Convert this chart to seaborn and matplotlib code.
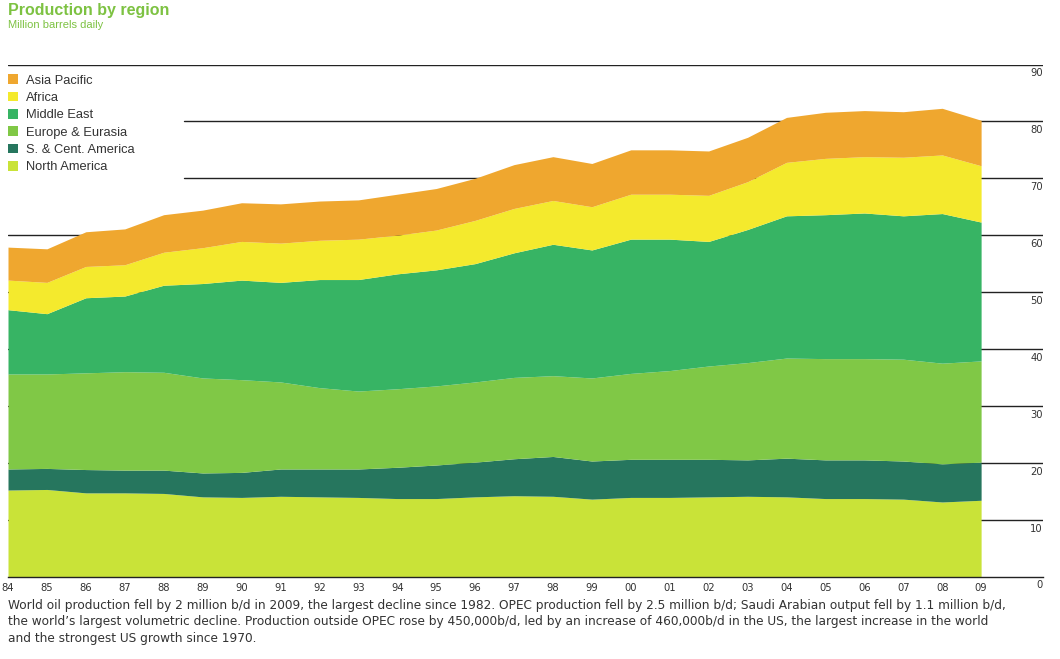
import numpy as np
import pandas as pd
import matplotlib
matplotlib.use("Agg")
import matplotlib.pyplot as plt
import matplotlib.transforms as mtransforms
import seaborn as sns

# Datos (millones de barriles diarios)
years = list(range(1984, 2010))
year_labels = [str(y)[2:] for y in years]

north_america = [15.2, 15.3, 14.7, 14.7, 14.6, 14.0, 13.9, 14.1, 14.0, 13.9,
                 13.7, 13.7, 14.0, 14.2, 14.1, 13.6, 13.9, 13.9, 14.0, 14.1,
                 14.0, 13.7, 13.7, 13.6, 13.1, 13.4]
s_cent_america = [3.7, 3.7, 4.1, 4.0, 4.1, 4.2, 4.4, 4.8, 4.9, 5.0,
                  5.5, 5.9, 6.1, 6.5, 7.0, 6.7, 6.7, 6.7, 6.6, 6.4,
                  6.8, 6.8, 6.8, 6.7, 6.7, 6.7]
europe_eurasia = [16.7, 16.6, 17.0, 17.3, 17.2, 16.7, 16.3, 15.3, 14.3, 13.7,
                  13.8, 13.9, 14.1, 14.3, 14.2, 14.6, 15.1, 15.6, 16.4, 17.1,
                  17.6, 17.8, 17.8, 17.9, 17.7, 17.8]
middle_east = [11.3, 10.6, 13.2, 13.3, 15.3, 16.6, 17.5, 17.5, 19.0, 19.6,
               20.2, 20.4, 20.8, 21.9, 23.1, 22.5, 23.6, 23.1, 21.9, 23.4,
               25.0, 25.3, 25.6, 25.2, 26.3, 24.4]
africa = [5.2, 5.5, 5.5, 5.5, 5.8, 6.3, 6.8, 6.9, 6.9, 7.1,
          6.8, 7.0, 7.6, 7.8, 7.7, 7.6, 7.9, 7.9, 8.1, 8.4,
          9.4, 9.9, 9.9, 10.3, 10.3, 9.9]
asia_pacific = [5.8, 5.9, 6.1, 6.3, 6.6, 6.6, 6.8, 6.9, 6.9, 6.9,
                7.2, 7.3, 7.4, 7.7, 7.7, 7.6, 7.8, 7.8, 7.8, 7.8,
                7.9, 8.1, 8.1, 8.0, 8.2, 8.0]

regions = ["North America", "S. & Cent. America", "Europe & Eurasia",
           "Middle East", "Africa", "Asia Pacific"]
y_ticks = [10, 20, 30, 40, 50, 60, 70, 80, 90]

df = pd.DataFrame({
    "year": years,
    "North America": north_america,
    "S. & Cent. America": s_cent_america,
    "Europe & Eurasia": europe_eurasia,
    "Middle East": middle_east,
    "Africa": africa,
    "Asia Pacific": asia_pacific,
})

# Estilo
sns.set_style("white")
plt.rcParams["font.family"] = ["Liberation Sans", "DejaVu Sans"]
palette = sns.color_palette(["#c9e338", "#26765e", "#80c846",
                             "#37b464", "#f4ea2d", "#efa72f"])
green = "#7dc242"
text_col = "#333333"
narrow = dict(family=["DejaVu Sans"], fontstretch="condensed")

fig = plt.figure(figsize=(10.6, 6.59), dpi=100)
ax = fig.add_axes([8 / 1060, 1 - 576.5 / 659, 1035 / 1060, 512 / 659])

# Lineas de referencia (detras de las areas)
for v in y_ticks:
    xmin = 0.17 if v in (70, 80) else 0.0
    ax.axhline(v, xmin=xmin, xmax=1.0, color="#222222", lw=1.0, zorder=0)

stacks = ax.stackplot(df["year"], [df[r] for r in regions],
                      colors=palette, labels=regions, zorder=2, lw=0)

ax.set_xlim(1984, 2010.59)
ax.set_ylim(0, 90)
sns.despine(ax=ax, left=True, right=True, top=True)
ax.spines["bottom"].set_color("#222222")
ax.spines["bottom"].set_linewidth(1.0)

ax.set_xticks(years)
ax.set_xticklabels(year_labels, fontsize=8, color=text_col, **narrow)
ax.tick_params(axis="x", length=0, pad=5)
ax.set_yticks([])

# Etiquetas del eje derecho, bajo cada linea
trans = mtransforms.blended_transform_factory(ax.transAxes, ax.transData)
trans = mtransforms.offset_copy(trans, fig=fig, x=0, y=-4, units="dots")
for v in [0] + y_ticks:
    ax.text(1.0, v, str(v), transform=trans, ha="right", va="top",
            fontsize=8, color=text_col, **narrow)

# Leyenda
handles, labels = ax.get_legend_handles_labels()
leg = ax.legend(handles[::-1], labels[::-1], loc="upper left",
                bbox_to_anchor=(0.0, 0.981), frameon=False, fontsize=9.3,
                handlelength=0.8, handleheight=0.8, handletextpad=0.6,
                labelspacing=0.38, borderaxespad=0, borderpad=0)
for t in leg.get_texts():
    t.set_color(text_col)

# Titulos
fig.text(8 / 1060, 1 - 3 / 659, "Production by region", ha="left", va="top",
         fontsize=11.5, fontweight="bold", color=green)
fig.text(8 / 1060, 1 - 20 / 659, "Million barrels daily", ha="left", va="top",
         fontsize=8, color=green)

note = ("World oil production fell by 2 million b/d in 2009, the largest decline since 1982. "
        "OPEC production fell by 2.5 million b/d; Saudi Arabian output fell by 1.1 million b/d,\n"
        "the world\u2019s largest volumetric decline. Production outside OPEC rose by 450,000b/d, "
        "led by an increase of 460,000b/d in the US, the largest increase in the world\n"
        "and the strongest US growth since 1970.")
fig.text(8 / 1060, 1 - 599 / 659, note, ha="left", va="top", fontsize=9.7,
         color=text_col, linespacing=1.33, **narrow)

fig.savefig("out.png", dpi=100)
